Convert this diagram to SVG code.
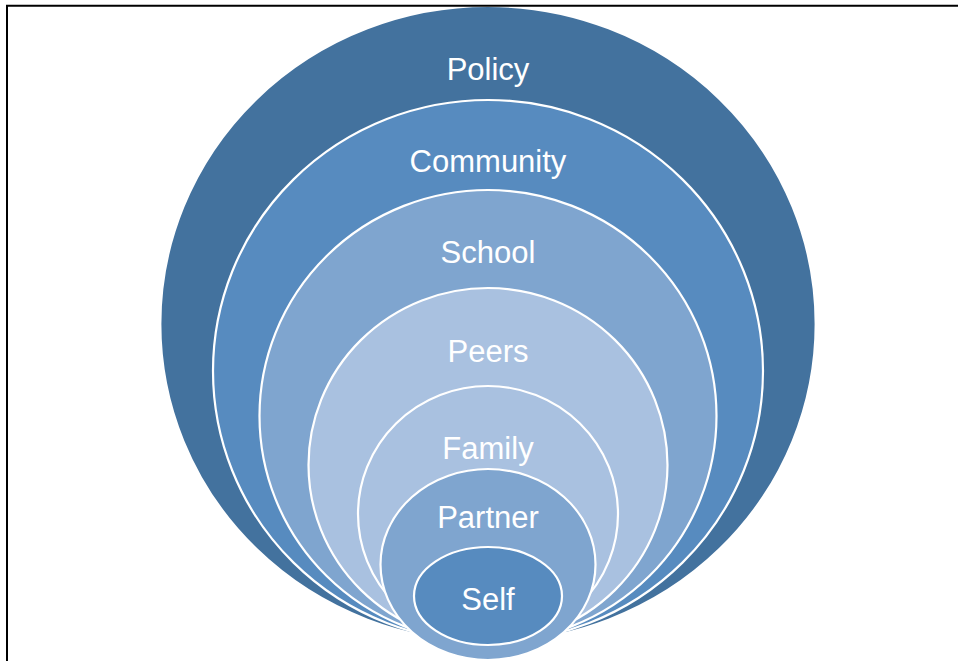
<svg xmlns="http://www.w3.org/2000/svg" width="958" height="661" viewBox="0 0 958 661">
  <style>
    .ring { stroke: #ffffff; stroke-width: 2.2; }
    .lbl { font-family: "Liberation Sans", Arial, sans-serif; font-size: 31px; fill: #ffffff; text-anchor: middle; }
    .frame { fill: none; stroke: #000000; stroke-width: 2; }
  </style>
  <rect x="0" y="0" width="958" height="661" fill="#ffffff"/>

  <g id="policy">
    <ellipse class="ring" cx="488" cy="324" rx="327.7" ry="318" fill="#43729E" stroke="none"/>
    <text class="lbl" x="488" y="80">Policy</text>
  </g>
  <g id="community">
    <ellipse class="ring" cx="488" cy="371" rx="275" ry="271" fill="#578BBF"/>
    <text class="lbl" x="488" y="172">Community</text>
  </g>
  <g id="school">
    <ellipse class="ring" cx="488" cy="416" rx="228.5" ry="226" fill="#7FA5CF"/>
    <text class="lbl" x="488" y="263">School</text>
  </g>
  <g id="peers">
    <ellipse class="ring" cx="488" cy="465" rx="179.5" ry="177" fill="#A9C1E0"/>
    <text class="lbl" x="488" y="362">Peers</text>
  </g>
  <g id="family">
    <ellipse class="ring" cx="488" cy="514" rx="130" ry="128" fill="#A9C1E0"/>
    <text class="lbl" x="488" y="459">Family</text>
  </g>
  <g id="partner">
    <ellipse class="ring" cx="488" cy="564.5" rx="107.5" ry="95.5" fill="#7FA5CF"/>
    <text class="lbl" x="488" y="528">Partner</text>
  </g>
  <g id="self">
    <ellipse class="ring" cx="488" cy="596" rx="74" ry="49" fill="#578BBF"/>
    <text class="lbl" x="488" y="610">Self</text>
  </g>

  <g id="connectors"></g>

  <!-- page border: top and left edges -->
  <path class="frame" d="M7 661 V5.8 H958"/>
</svg>
